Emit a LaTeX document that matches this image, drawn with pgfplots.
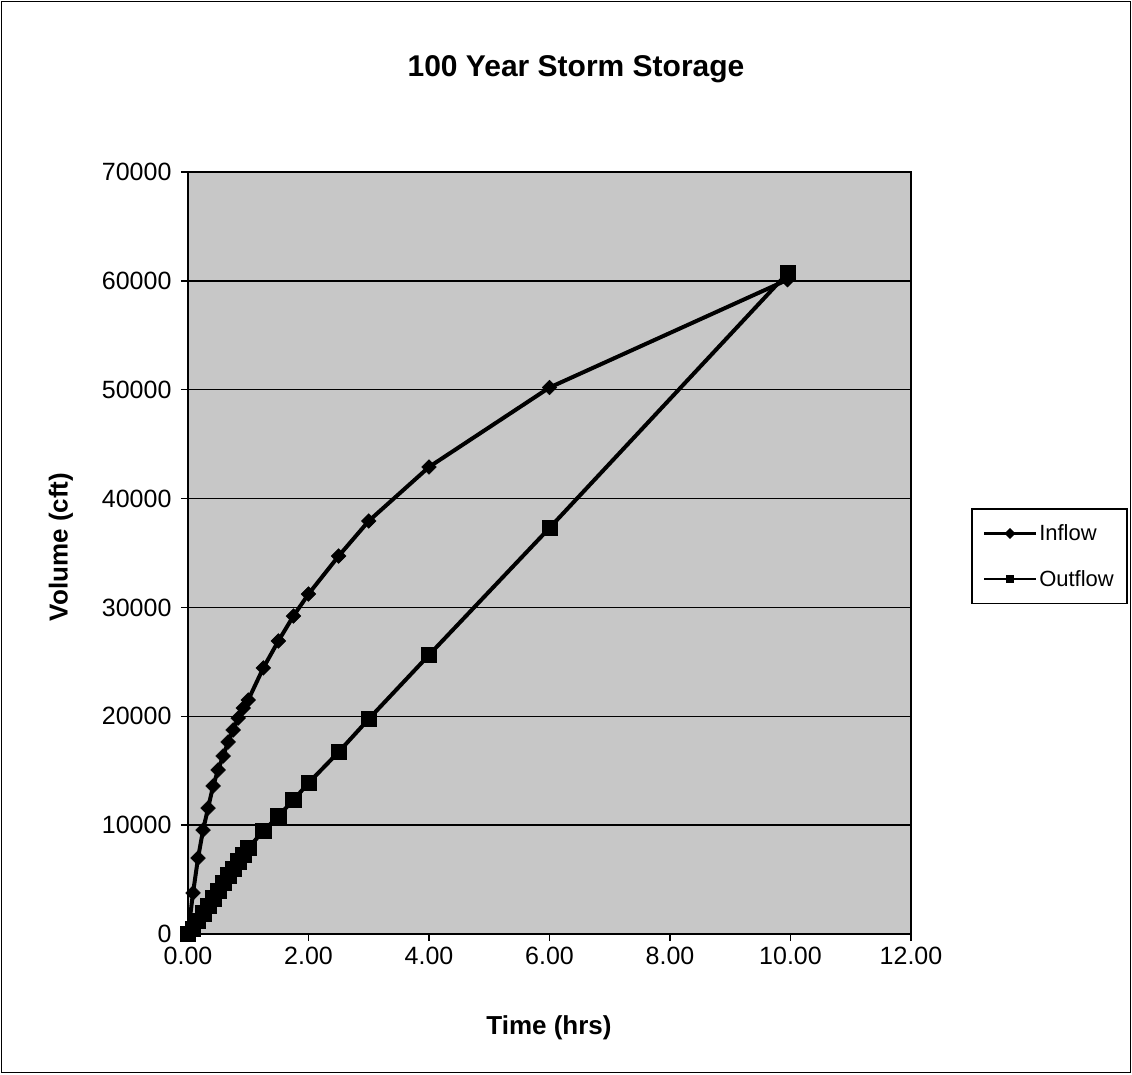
\documentclass[border=0pt]{standalone}
\usepackage{fontspec}
\setmainfont{Liberation Sans}
\usepackage{pgfplots}
\pgfplotsset{compat=1.18}
\pgfplotstableread{
t v
0 0
0.0833 3770
0.1667 6980
0.25 9550
0.3333 11570
0.4167 13600
0.5 15070
0.5833 16350
0.6667 17640
0.75 18740
0.8333 19840
0.9167 20760
1.0 21500
1.25 24440
1.5 26920
1.75 29210
2.0 31230
2.5 34720
3.0 37940
4.0 42900
6.0 50200
9.95 60100
}\inflow
\pgfplotstableread{
t v
0 0
0.0833 500
0.1667 1200
0.25 1900
0.3333 2600
0.4167 3300
0.5 4000
0.5833 4700
0.6667 5400
0.75 6000
0.8333 6700
0.9167 7300
1.0 7900
1.25 9460
1.5 10840
1.75 12310
2.0 13870
2.5 16720
3.0 19750
4.0 25630
6.0 37300
9.95 60700
}\outflow
\begin{document}
\begin{tikzpicture}
\useasboundingbox (-188pt,-140pt) rectangle (944pt,934pt);
\draw[line width=1.5pt] (-186.5pt,-138.5pt) rectangle (942.5pt,932.5pt);
\begin{axis}[
  at={(0pt,0pt)}, anchor=south west,
  width=723pt, height=762pt, scale only axis,
  xmin=0, xmax=12, ymin=0, ymax=70000,
  scaled y ticks=false, scaled x ticks=false,
  axis background/.style={fill=black!22},
  axis line style={line width=2pt},
  ymajorgrids, grid style={black, line width=1.5pt},
  xtick pos=bottom, ytick pos=left,
  xtick={0,2,4,6,8,10,12},
  xticklabels={0.00,2.00,4.00,6.00,8.00,10.00,12.00},
  ytick={0,10000,20000,30000,40000,50000,60000,70000},
  yticklabels={0,10000,20000,30000,40000,50000,60000,70000},
  tick align=outside, major tick length=7pt,
  tick style={black, line width=1.5pt},
  ticklabel style={font=\fontsize{25}{30}\selectfont},
  yticklabel style={xshift=-6pt},
  xticklabel style={yshift=-3pt},
  title={100 Year Storm Storage},
  title style={at={(axis description cs:0.5367,1.118)}, anchor=base, font=\bfseries\fontsize{30}{36}\selectfont},
  xlabel={Time (hrs)},
  xlabel style={at={(axis description cs:0.4993,-0.1234)}, anchor=center, font=\bfseries\fontsize{26}{31}\selectfont},
  ylabel={Volume (cft)},
  ylabel style={at={(axis description cs:-0.1757,0.508)}, anchor=center, font=\bfseries\fontsize{26}{31}\selectfont},
  legend style={at={(axis description cs:1.083,0.559)}, anchor=north west, draw=black, line width=1.5pt,
    font=\fontsize{22}{26}\selectfont, fill=white, inner xsep=11pt, inner ysep=14pt, row sep=24pt,
    cells={anchor=west}},
  legend image code/.code={\draw[#1, line width=2.5pt, mark size=3.6pt, mark repeat=2, mark phase=2] plot coordinates {(0pt,0pt) (26pt,0pt) (52pt,0pt)};},
]
\addplot[black, line width=4pt, mark=square*, mark size=5.2pt, mark options={rotate=45, line width=0.5pt, fill=black}] table[x=t,y=v] {\inflow};
\addlegendentry{Inflow}
\addplot[black, line width=4pt, mark=square*, mark size=7.7pt, mark options={line width=0.5pt, fill=black}] table[x=t,y=v] {\outflow};
\addlegendentry{Outflow}
\end{axis}
\end{tikzpicture}
\end{document}
